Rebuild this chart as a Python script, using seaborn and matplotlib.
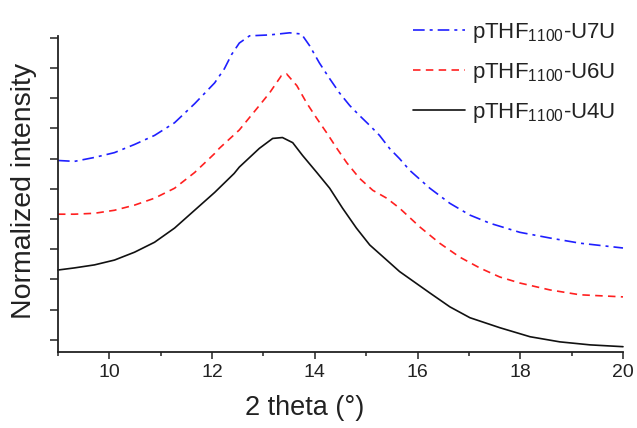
import numpy as np
import pandas as pd
import matplotlib
matplotlib.use("Agg")
import matplotlib.pyplot as plt
import seaborn as sns

# ---- data ----
x_u7u = [9.0, 9.32, 9.71, 10.10, 10.49, 10.88, 11.27, 11.66, 12.05, 12.24, 12.38, 12.53, 12.73,
         13.12, 13.51, 13.74, 13.90, 14.09, 14.29, 14.48, 14.68, 14.87, 15.07, 15.26, 15.46,
         15.65, 15.85, 16.24, 16.63, 17.02, 17.41, 17.99, 18.58, 19.16, 20.0]
y_u7u = [6.94, 6.91, 7.04, 7.20, 7.47, 7.77, 8.19, 8.82, 9.51, 9.98, 10.45, 10.83, 11.07,
         11.10, 11.17, 11.13, 10.74, 10.17, 9.65, 9.18, 8.76, 8.43, 8.10, 7.77, 7.33,
         7.00, 6.61, 6.02, 5.52, 5.13, 4.86, 4.56, 4.37, 4.20, 4.04]

x_u6u = [9.0, 9.32, 9.71, 10.10, 10.49, 10.88, 11.27, 11.66, 12.05, 12.14, 12.53, 12.92,
         13.12, 13.35, 13.45, 13.65, 13.84, 14.04, 14.23, 14.43, 14.62, 14.87, 15.13, 15.40,
         15.65, 16.05, 16.43, 16.82, 17.21, 17.60, 17.99, 18.58, 19.16, 20.0]
y_u6u = [5.16, 5.16, 5.19, 5.29, 5.46, 5.69, 6.02, 6.54, 7.17, 7.34, 7.95, 8.76,
         9.18, 9.75, 9.81, 9.42, 8.85, 8.33, 7.86, 7.34, 6.87, 6.35, 5.95, 5.69,
         5.36, 4.73, 4.20, 3.74, 3.38, 3.08, 2.88, 2.65, 2.49, 2.42]

x_u4u = [9.0, 9.32, 9.71, 10.10, 10.49, 10.88, 11.27, 11.66, 12.05, 12.43, 12.53, 12.92,
         13.18, 13.37, 13.57, 13.76, 14.04, 14.29, 14.54, 14.81, 15.07, 15.40, 15.65,
         16.24, 16.63, 17.02, 17.60, 18.19, 18.77, 19.36, 20.0]
y_u4u = [3.31, 3.38, 3.48, 3.64, 3.90, 4.23, 4.70, 5.29, 5.88, 6.51, 6.72, 7.34,
         7.67, 7.70, 7.53, 7.11, 6.54, 6.02, 5.36, 4.70, 4.14, 3.64, 3.26,
         2.55, 2.09, 1.73, 1.40, 1.10, 0.93, 0.83, 0.77]

labels = [r"pTHF$_{1100}$-U7U", r"pTHF$_{1100}$-U6U", r"pTHF$_{1100}$-U4U"]
x_ticks = [10, 12, 14, 16, 18, 20]

sns.set_style("ticks")
plt.rcParams["font.family"] = ["Liberation Sans", "DejaVu Sans"]
plt.rcParams["mathtext.fontset"] = "custom"
plt.rcParams["mathtext.rm"] = "Liberation Sans"
plt.rcParams["mathtext.it"] = "Liberation Sans:italic"
plt.rcParams["mathtext.bf"] = "Liberation Sans:bold"

fig = plt.figure(figsize=(6.37, 4.28), dpi=100)
ax = fig.add_axes([0.091, 0.178, 0.887, 0.739])

series = [(x_u7u, y_u7u, "#1f1fff", (0, (7, 3, 1.8, 3))),
          (x_u6u, y_u6u, "#ff2020", (0, (4.5, 3.2))),
          (x_u4u, y_u4u, "#111111", "-")]
for (xs, ys, c, ls), lab in zip(series, labels):
    df = pd.DataFrame({"x": xs, "y": ys})
    sns.lineplot(data=df, x="x", y="y", ax=ax, color=c, linestyle=ls, lw=1.2,
                 label=lab, sort=False, clip_on=False)

ax.set_xlim(9, 20)
ax.set_ylim(0.6, 11.08)
ax.set_xticks(x_ticks)
ax.set_xticks(np.arange(9, 21, 1), minor=True)
ax.set_yticks(np.arange(1, 12, 1))
ax.set_yticklabels([])
ax.tick_params(axis="x", which="major", length=5, width=1.1, labelsize=14, pad=4,
               color="#222222", labelcolor="#222222")
ax.tick_params(axis="x", which="minor", length=3, width=1.1, color="#222222")
ax.tick_params(axis="y", which="major", length=5.5, width=1.1, color="#222222")
sns.despine(ax=ax)
for s in ["left", "bottom"]:
    ax.spines[s].set_linewidth(1.3)
    ax.spines[s].set_color("#222222")

ax.set_xlabel("2 theta (°)", fontsize=19.5, color="#222222")
ax.set_ylabel("Normalized intensity", fontsize=20.5, color="#222222")
ax.xaxis.set_label_coords(0.437, -0.135)
ax.yaxis.set_label_coords(-0.037, 0.51)

leg = ax.legend(loc="upper right", bbox_to_anchor=(0.984, 0.978), bbox_transform=fig.transFigure,
                frameon=False, fontsize=16, handlelength=2.3, handletextpad=0.35,
                labelspacing=0.72, borderpad=0.0)
for t in leg.get_texts():
    t.set_color("#222222")

fig.savefig("out.png", dpi=100)
